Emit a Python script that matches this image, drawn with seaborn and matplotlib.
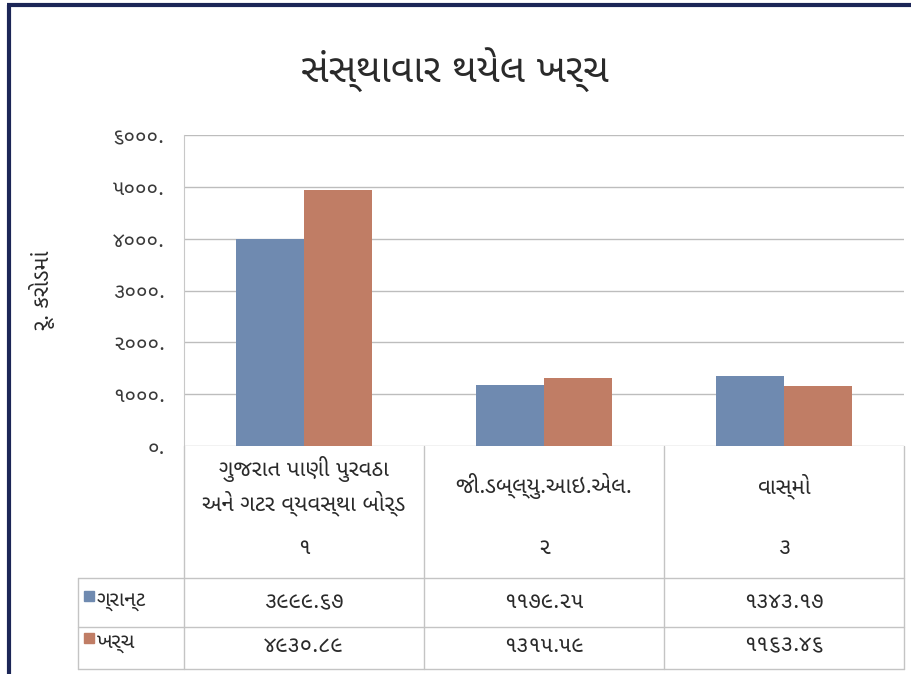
import numpy as np
import pandas as pd
import matplotlib
matplotlib.use("Agg")
import matplotlib.pyplot as plt
from matplotlib.lines import Line2D
from matplotlib.patches import Rectangle
import matplotlib.transforms as mtrans
import seaborn as sns

# ---------------- data ----------------
categories = ["ગુજરાત પાણી પુરવઠા\nઅને ગટર વ્યવસ્થા બોર્ડ", "જી.ડબ્લ્યુ.આઇ.એલ.", "વાસ્મો"]
serials = ["૧", "૨", "૩"]
series_names = ["ગ્રાન્ટ", "ખર્ચ"]
grant = [3999.67, 1179.25, 1343.17]
expense = [4930.89, 1315.59, 1163.46]
yticks = [0, 1000, 2000, 3000, 4000, 5000, 6000]
title = "સંસ્થાવાર થયેલ ખર્ચ"
ylabel = "રૂ. કરોડમાં"
colors = ["#6F8AB0", "#C07D65"]

GUJ_DIGITS = "૦૧૨૩૪૫૬૭૮૯"
def guj(s):
    return "".join(GUJ_DIGITS[int(c)] if c.isdigit() else c for c in s)

# ---------------- fonts ----------------
sns.set_style("white")
plt.rcParams["font.family"] = ["Noto Sans Gujarati UI", "Noto Sans Gujarati", "DejaVu Sans"]

W, H = 911, 674
fig = plt.figure(figsize=(W / 100, H / 100), dpi=100)

def fx(px):
    return px / W
def fy(py):
    return 1 - py / H

ax = fig.add_axes([fx(184), fy(446), fx(904) - fx(184), fy(135) - fy(446)])

df = pd.DataFrame({
    "cat": categories * 2,
    "val": grant + expense,
    "series": [series_names[0]] * 3 + [series_names[1]] * 3,
})
sns.barplot(data=df, x="cat", y="val", hue="series", palette=colors,
            width=0.57, ax=ax, legend=False, saturation=1, linewidth=0)

ax.set_ylim(0, 6000)
ax.set_xlim(-0.5, 2.5)
ax.set_yticks(yticks)
ax.set_yticklabels([guj(f"{v}.") for v in yticks], fontsize=15, color="#3A3A3A")
ax.set_xticks([])
ax.set_xlabel("")
ax.set_ylabel("")
ax.yaxis.grid(True, color="#BDBDBD", linewidth=1.0)
ax.set_axisbelow(True)
for s in ["top", "right", "bottom"]:
    ax.spines[s].set_visible(False)
ax.spines["left"].set_color("#C8C8C8")
ax.tick_params(axis="y", length=4, color="#BDBDBD", pad=10)

# title and y label
fig.text(fx(455), fy(70), title, ha="center", va="center", fontsize=28, color="#2A2A2A")
fig.text(fx(42), fy(290), ylabel, ha="center", va="center", rotation=90, fontsize=16, color="#2A2A2A")

# ---------------- data table ----------------
tr = mtrans.blended_transform_factory(ax.transData, fig.transFigure)
lc = "#C4C4C4"
for xb in np.arange(-0.5, len(categories) + 0.5, 1.0):
    fig.add_artist(Line2D([xb, xb], [fy(446), fy(669)], transform=tr, color=lc, lw=1))
fig.add_artist(Line2D([fx(78), fx(78)], [fy(578), fy(669)], transform=fig.transFigure, color=lc, lw=1))
for yy in [578, 627, 669]:
    fig.add_artist(Line2D([fx(78), fx(904)], [fy(yy), fy(yy)], transform=fig.transFigure, color=lc, lw=1))

for i, (c, s) in enumerate(zip(categories, serials)):
    fig.text(i, fy(486), c, transform=tr, ha="center", va="center", fontsize=16,
             color="#2A2A2A", linespacing=1.45)
    fig.text(i, fy(548), s, transform=tr, ha="center", va="center", fontsize=16, color="#2A2A2A")
    fig.text(i, fy(603), guj(f"{grant[i]:.2f}"), transform=tr, ha="center", va="center",
             fontsize=16, color="#2A2A2A")
    fig.text(i, fy(646), guj(f"{expense[i]:.2f}"), transform=tr, ha="center", va="center",
             fontsize=16, color="#2A2A2A")

for j, (name, col, yy) in enumerate(zip(series_names, colors, [596, 638])):
    fig.add_artist(Rectangle((fx(84), fy(yy) - 0.5 * (10 / H)), 10 / W, 10 / H,
                             transform=fig.transFigure, color=col))
    fig.text(fx(97), fy(yy + 5), name, ha="left", va="center", fontsize=15, color="#2A2A2A")

# outer navy frame (top and left edges visible)
fig.add_artist(Line2D([fx(8.5), fx(8.5)], [0, fy(4.5)], transform=fig.transFigure,
                      color="#1C2657", lw=3, solid_capstyle="butt"))
fig.add_artist(Line2D([fx(7), 1], [fy(4.5), fy(4.5)], transform=fig.transFigure,
                      color="#1C2657", lw=3, solid_capstyle="butt"))

fig.savefig("out.png", dpi=100)
